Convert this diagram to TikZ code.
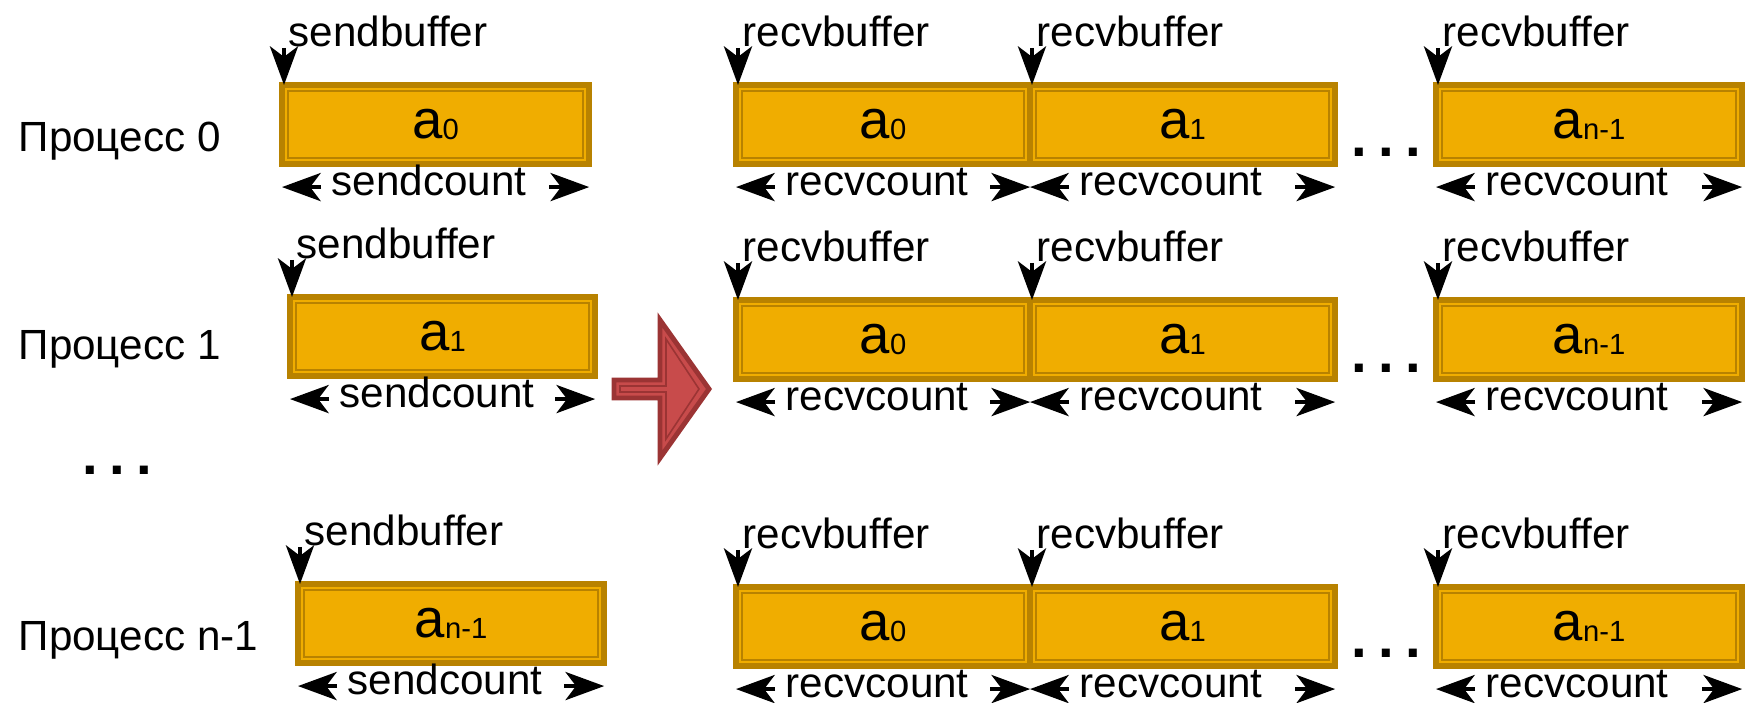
\documentclass[tikz,border=0pt]{standalone}
\usepackage{fontspec}
\setmainfont{Liberation Sans}
\usetikzlibrary{arrows.meta}
\definecolor{bufFill}{RGB}{240,173,0}
\definecolor{bufLine}{RGB}{184,130,0}
\definecolor{redFill}{RGB}{200,75,75}
\definecolor{redLine}{RGB}{155,52,52}
\newcommand{\aitem}[1]{{\fontsize{15.5pt}{18pt}\selectfont a}\raisebox{-0.3pt}{\fontsize{8.3pt}{9pt}\selectfont #1}}
\tikzset{
  buf/.style={draw=bufLine, fill=bufFill, line width=1.7pt, anchor=north west,
    inner sep=0pt, outer sep=0pt, minimum height=0.79cm, minimum width=#1,
    path picture={\draw[bufLine, line width=0.45pt]
      ([shift={(0.06cm,-0.06cm)}]path picture bounding box.north west) rectangle
      ([shift={(-0.06cm,0.06cm)}]path picture bounding box.south east);}},
  proc/.style={anchor=west, inner sep=0pt, font=\fontsize{12pt}{14pt}\selectfont},
  bufname/.style={anchor=south west, inner xsep=0.04cm, inner ysep=0pt,
    font=\fontsize{12pt}{14pt}\selectfont},
  cntlbl/.style={anchor=west, inner xsep=0.1cm, inner ysep=0pt, text height=0.22cm,
    text depth=0.06cm, font=\fontsize{12pt}{14pt}\selectfont},
  ptr/.style={-{Stealth[length=11pt, width=8pt, inset=3pt]}, line width=1.1pt},
  ellip/.style={inner sep=0pt, font=\fontsize{16pt}{18pt}\selectfont\bfseries}
}
\begin{document}
\begin{tikzpicture}[x=0.01cm, y=-0.01cm]
  \useasboundingbox (0,0) rectangle (1747,702);
  \draw
    (18,141) node[proc] (p0) {Процесс 0}
    (18,349) node[proc] (p1) {Процесс 1}
    (18,640) node[proc] (p2) {Процесс n-1}
    (117,470) node[ellip] (pdots) {.\kern3.2pt.\kern3.2pt.};
  % send side
  \draw
    (282,85) node[buf=3.07cm] (s0) {\aitem{0}}
    (290,297) node[buf=3.05cm] (s1) {\aitem{1}}
    (298,584) node[buf=3.06cm] (s2) {\aitem{n-1}};
  % recv side
  \draw
    (736,85) node[buf=2.94cm] (r00) {\aitem{0}}
    (1030,85) node[buf=3.05cm] (r01) {\aitem{1}}
    (1436,85) node[buf=3.06cm] (r0n) {\aitem{n-1}}
    (736,300) node[buf=2.94cm] (r10) {\aitem{0}}
    (1030,300) node[buf=3.05cm] (r11) {\aitem{1}}
    (1436,300) node[buf=3.06cm] (r1n) {\aitem{n-1}}
    (736,587) node[buf=2.94cm] (r20) {\aitem{0}}
    (1030,587) node[buf=3.05cm] (r21) {\aitem{1}}
    (1436,587) node[buf=3.06cm] (r2n) {\aitem{n-1}}
    (1386,152) node[ellip] (d0) {.\kern3.2pt.\kern3.2pt.}
    (1386,368) node[ellip] (d1) {.\kern3.2pt.\kern3.2pt.}
    (1386,653) node[ellip] (d2) {.\kern3.2pt.\kern3.2pt.};
  % buffer pointers and counts
  \foreach \b/\n/\c in {s0/sendbuffer/sendcount, s1/sendbuffer/sendcount,
      s2/sendbuffer/sendcount, r00/recvbuffer/recvcount, r01/recvbuffer/recvcount,
      r0n/recvbuffer/recvcount, r10/recvbuffer/recvcount, r11/recvbuffer/recvcount,
      r1n/recvbuffer/recvcount, r20/recvbuffer/recvcount, r21/recvbuffer/recvcount,
      r2n/recvbuffer/recvcount} {
    \node[bufname] (\b-name) at ([shift={(0.02cm,0.37cm)}]\b.north west) {\n};
    \draw[ptr] (\b-name.south west) -- (\b-name.south west |- \b.north);
    \node[cntlbl] (\b-cnt) at ([shift={(0.39cm,-0.23cm)}]\b.south west) {\c};
    \draw[ptr] (\b-cnt.west) -- (\b-cnt.west -| \b.west);
    \draw[ptr] ([xshift=-0.4cm]\b-cnt.west -| \b.east) -- (\b-cnt.west -| \b.east);
  }
  % red arrow
  \draw[redLine, line width=1.4pt, fill=redFill]
    (614,380) -- (660,380) -- (660,320) -- (709,389) -- (660,458) -- (660,398)
    -- (614,398) -- cycle;
  \draw[redLine, line width=0.45pt]
    (620,386) -- (666,386) -- (666,339) -- (699,389) -- (666,439) -- (666,392)
    -- (620,392) -- cycle;
\end{tikzpicture}
\end{document}
